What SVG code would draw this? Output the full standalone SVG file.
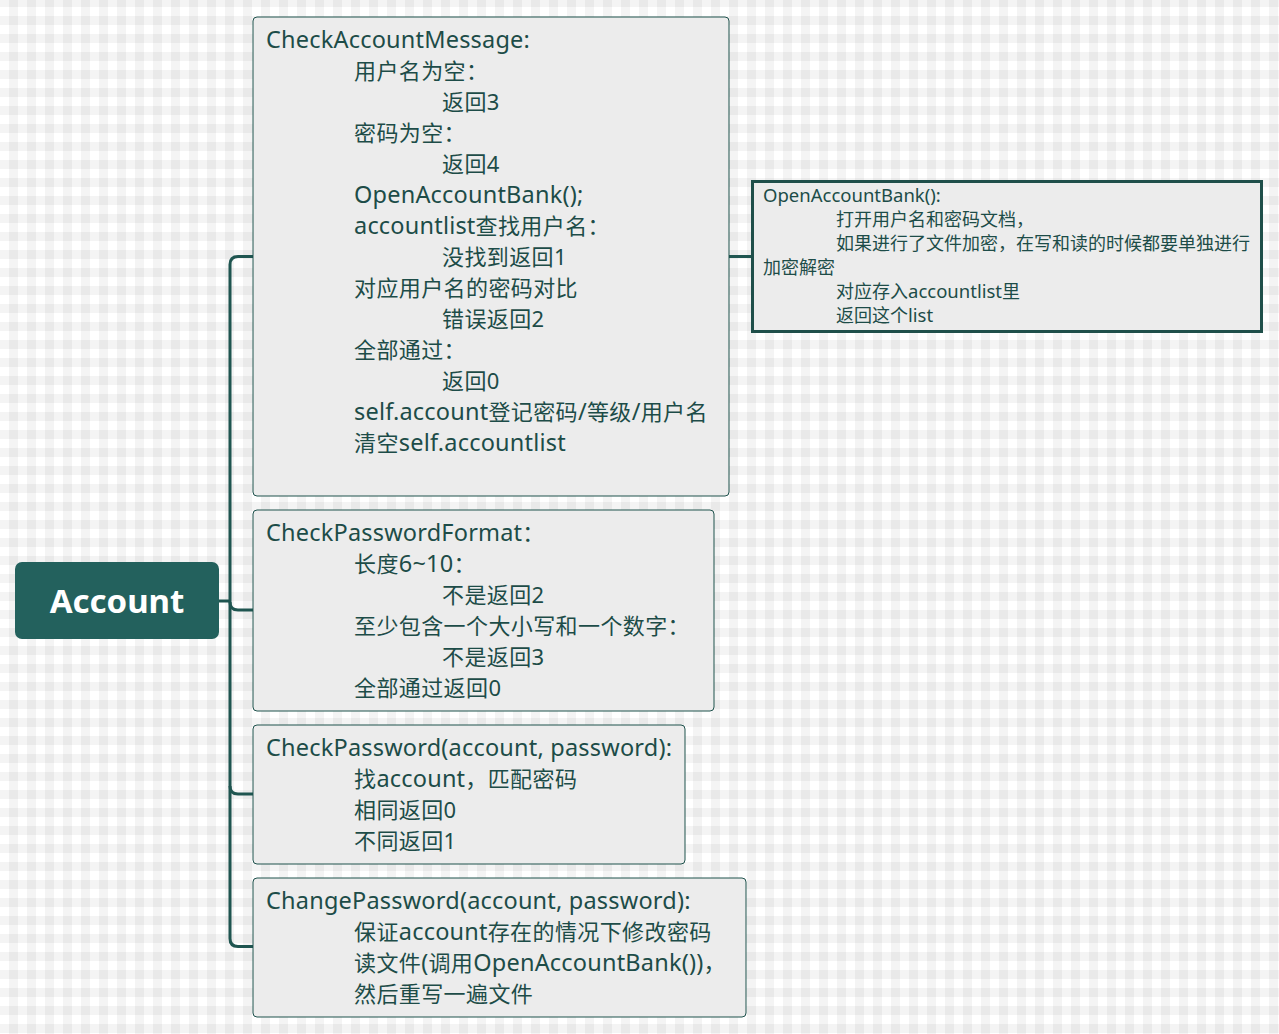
<svg xmlns="http://www.w3.org/2000/svg" width="1279" height="1034" viewBox="0 0 1279 1034">
<defs>
<pattern id="bg" patternUnits="userSpaceOnUse" x="0" y="-2" width="18" height="18">
<rect width="18" height="18" fill="#ffffff"/>
<rect x="9" y="0" width="9" height="18" fill="#000" fill-opacity="0.045"/>
<rect x="0" y="0" width="18" height="9" fill="#000" fill-opacity="0.045"/>
</pattern>
<style>
.node{fill:#ececec;stroke:#1f524d;stroke-width:1}
.t{font-family:"Noto Sans","Noto Sans CJK SC",sans-serif;font-size:22px;fill:#1d4c48;letter-spacing:0.4px}
.s{font-family:"Noto Sans","Noto Sans CJK SC",sans-serif;font-size:18px;fill:#1d4c48}
.l{font-size:23.5px;letter-spacing:0.2px}
.ls{font-size:18.5px}
.conn{fill:none;stroke:#1f5550;stroke-width:3}
</style>
</defs>
<rect width="1279" height="1034" fill="url(#bg)"/>
<g id="connectors">
<path class="conn" d="M219 601 H230"/>
<path class="conn" d="M253 256.5 H238 Q230 256.5 230 264.5 V938.5 Q230 946.5 238 946.5 H253"/>
<path class="conn" d="M230 602 Q230 610 238 610 H253"/>
<path class="conn" d="M230 786 Q230 794 238 794 H253"/>
<path class="conn" d="M729 256.5 H752"/>
</g>
<g id="root">
<rect x="15" y="562" width="204" height="77" rx="7" fill="#23615d"/>
<text x="117" y="613" text-anchor="middle" font-family="'Noto Sans','Open Sans',sans-serif" font-size="33" font-weight="bold" fill="#ffffff">Account</text>
</g>
<g id="checkAccountMessage">
<rect class="node" x="253" y="17" width="476" height="479" rx="4"/>
<text class="t l" x="266" y="48">CheckAccountMessage:</text>
<text class="t" x="354" y="79">用户名为空：</text>
<text class="t" x="442" y="110">返回3</text>
<text class="t" x="354" y="141">密码为空：</text>
<text class="t" x="442" y="172">返回4</text>
<text class="t l" x="354" y="203">OpenAccountBank();</text>
<text class="t" x="354" y="234"><tspan class="l">accountlist</tspan>查找用户名：</text>
<text class="t" x="442" y="265">没找到返回1</text>
<text class="t" x="354" y="296">对应用户名的密码对比</text>
<text class="t" x="442" y="327">错误返回2</text>
<text class="t" x="354" y="358">全部通过：</text>
<text class="t" x="442" y="389">返回0</text>
<text class="t" x="354" y="420"><tspan class="l">self.account</tspan>登记密码<tspan class="l">/</tspan>等级<tspan class="l">/</tspan>用户名</text>
<text class="t" x="354" y="451">清空<tspan class="l">self.accountlist</tspan></text>
</g>
<g id="openAccountBank">
<rect x="752.5" y="181.5" width="509" height="150" fill="#ececec" stroke="#1f4f4a" stroke-width="3"/>
<text class="s ls" x="763" y="202">OpenAccountBank():</text>
<text class="s" x="836" y="226">打开用户名和密码文档，</text>
<text class="s" x="836" y="250">如果进行了文件加密，在写和读的时候都要单独进行</text>
<text class="s" x="763" y="274">加密解密</text>
<text class="s" x="836" y="298">对应存入<tspan class="ls">accountlist</tspan>里</text>
<text class="s" x="836" y="322">返回这个<tspan class="ls">list</tspan></text>
</g>
<g id="checkPasswordFormat">
<rect class="node" x="253" y="510" width="461" height="201" rx="4"/>
<text class="t" x="266" y="541"><tspan class="l">CheckPasswordFormat</tspan>：</text>
<text class="t" x="354" y="572">长度<tspan class="l">6~10</tspan>：</text>
<text class="t" x="442" y="603">不是返回2</text>
<text class="t" x="354" y="634">至少包含一个大小写和一个数字：</text>
<text class="t" x="442" y="665">不是返回3</text>
<text class="t" x="354" y="696">全部通过返回0</text>
</g>
<g id="checkPassword">
<rect class="node" x="253" y="725" width="432" height="139" rx="4"/>
<text class="t l" x="266" y="756">CheckPassword(account, password):</text>
<text class="t" x="354" y="787">找<tspan class="l">account</tspan>，匹配密码</text>
<text class="t" x="354" y="818">相同返回0</text>
<text class="t" x="354" y="849">不同返回1</text>
</g>
<g id="changePassword">
<rect class="node" x="253" y="878" width="493" height="139" rx="4"/>
<text class="t l" x="266" y="909">ChangePassword(account, password):</text>
<text class="t" x="354" y="940">保证<tspan class="l">account</tspan>存在的情况下修改密码</text>
<text class="t" x="354" y="971">读文件<tspan class="l">(</tspan>调用<tspan class="l">OpenAccountBank())</tspan>，</text>
<text class="t" x="354" y="1002">然后重写一遍文件</text>
</g>
</svg>
